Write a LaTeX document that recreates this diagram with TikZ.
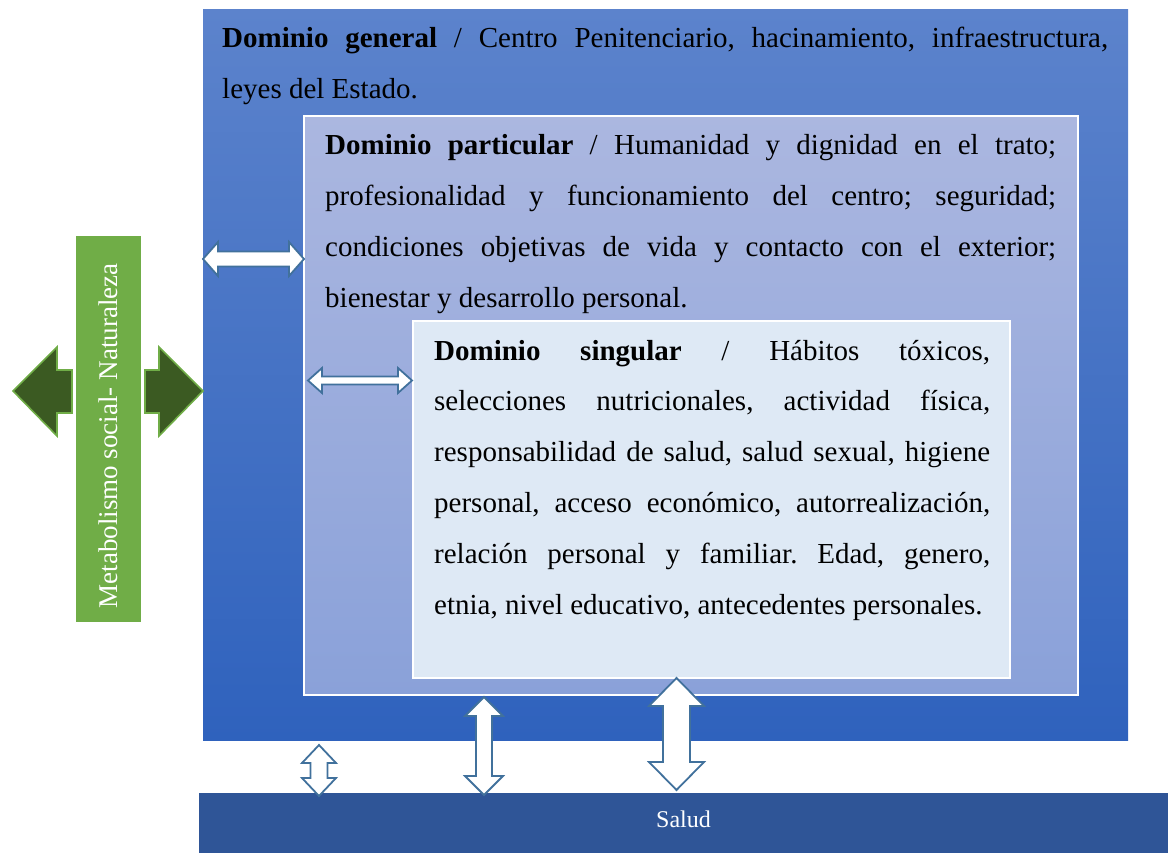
\documentclass[tikz,border=0pt]{standalone}
\usepackage{fontspec}
\setmainfont{Liberation Serif}
\frenchspacing
\definecolor{outerTop}{HTML}{5C83CC}
\definecolor{outerBot}{HTML}{2F62BD}
\definecolor{partTop}{HTML}{ABB7E0}
\definecolor{partBot}{HTML}{8AA1D9}
\definecolor{singFill}{HTML}{DEE9F5}
\definecolor{greenBar}{HTML}{70AD47}
\definecolor{darkGreen}{HTML}{3B5A22}
\definecolor{saludBlue}{HTML}{2F5597}
\definecolor{arrowEdge}{HTML}{41719C}
\newcommand{\hdblarrow}[6]{%
  \draw[blockarrow] (#1,#3) -- (#1+#4,#3-#5) -- (#1+#4,#3-#6) -- (#2-#4,#3-#6) -- (#2-#4,#3-#5) -- (#2,#3)
    -- (#2-#4,#3+#5) -- (#2-#4,#3+#6) -- (#1+#4,#3+#6) -- (#1+#4,#3+#5) -- cycle;}
\newcommand{\vdblarrow}[6]{%
  \draw[blockarrow] (#3,#1) -- (#3-#5,#1+#4) -- (#3-#6,#1+#4) -- (#3-#6,#2-#4) -- (#3-#5,#2-#4) -- (#3,#2)
    -- (#3+#5,#2-#4) -- (#3+#6,#2-#4) -- (#3+#6,#1+#4) -- (#3+#5,#1+#4) -- cycle;}
\tikzset{
  blockarrow/.style={fill=white, draw=arrowEdge, line width=1.8pt, line join=miter},
  greenarrow/.style={fill=darkGreen, draw=greenBar, line width=1.6pt, line join=miter},
  bodytext/.style={anchor=base west, inner sep=0pt, align=left, text=black,
    font=\fontsize{29}{50.8}\selectfont\frenchspacing},
}
\begin{document}
\begin{tikzpicture}[x=1pt,y=-1pt]
\useasboundingbox (0,0) rectangle (1173,853);
% boxes
\shade[top color=outerTop, bottom color=outerBot] (203,10) rectangle (1128,740);
\shade[top color=partTop, bottom color=partBot, draw=white, line width=1.5pt] (304,116) rectangle (1078,695);
\fill[singFill] (413,321) rectangle (1010,678);
\draw[white, line width=1.5pt] (413,321) rectangle (1010,678);
\fill[greenBar] (76,236) rectangle (141,622);
\fill[saludBlue] (199,793) rectangle (1168,853);

% texts (anchor = baseline of last line)
\node[bodytext] (gen) at (222,98.8) {%
  \makebox[886pt][s]{\textbf{Dominio general} / Centro Penitenciario, hacinamiento, infraestructura,}\\
  leyes del Estado.};
\node[bodytext] (part) at (325,307.4) {%
  \makebox[731pt][s]{\textbf{Dominio particular} / Humanidad y dignidad en el trato;}\\
  \makebox[731pt][s]{profesionalidad y funcionamiento del centro; seguridad;}\\
  \makebox[731pt][s]{condiciones objetivas de vida y contacto con el exterior;}\\
  bienestar y desarrollo personal.};
\node[bodytext] (sing) at (434,614) {%
  \makebox[556pt][s]{\textbf{Dominio singular} / Hábitos tóxicos,}\\
  \makebox[556pt][s]{selecciones nutricionales, actividad física,}\\
  \makebox[556pt][s]{responsabilidad de salud, salud sexual, higiene}\\
  \makebox[556pt][s]{personal, acceso económico, autorrealización,}\\
  \makebox[556pt][s]{relación personal y familiar. Edad, genero,}\\
  etnia, nivel educativo, antecedentes personales.};
\node[rotate=90, text=white, inner sep=0pt, font=\fontsize{27}{30}\selectfont] (meta) at (108.5,436) {Metabolismo social- Naturaleza};
\node[text=white, inner sep=0pt, font=\fontsize{24}{28}\selectfont] (salud) at (683.5,819) {Salud};

% green arrows
\draw[greenarrow] (13,391) -- (57,347) -- (57,370) -- (72,370) -- (72,413) -- (57,413) -- (57,436) -- cycle;
\draw[greenarrow] (203,391) -- (159,347) -- (159,370) -- (145,370) -- (145,413) -- (159,413) -- (159,436) -- cycle;

% double arrows
\hdblarrow{203}{304}{259}{15}{17}{7.5}
\hdblarrow{308}{412}{380.5}{14}{12.5}{4}
\vdblarrow{745}{796}{319}{18}{17}{8.5}
\vdblarrow{697}{795}{484}{19}{19}{8}
\vdblarrow{678}{790}{676.5}{28}{27.5}{13.5}
\end{tikzpicture}
\end{document}
